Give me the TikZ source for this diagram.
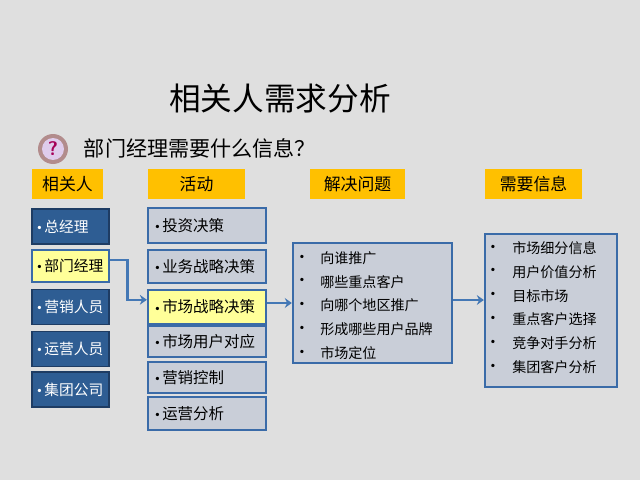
\documentclass[tikz,border=0pt]{standalone}
\usepackage{fontspec}
\newfontfamily\cjk{Noto Sans CJK SC}
\usetikzlibrary{arrows.meta}
\definecolor{bggray}{HTML}{DFDFDF}
\definecolor{hdryellow}{HTML}{FFC000}
\definecolor{roleblue}{HTML}{2E5D93}
\definecolor{rolenavy}{HTML}{1E3C63}
\definecolor{actfill}{HTML}{C9CED8}
\definecolor{actline}{HTML}{3A6BA8}
\definecolor{hilite}{HTML}{FFFF99}
\definecolor{arrowblue}{HTML}{4478B5}
\newcommand\bul{\raisebox{1.3pt}{\rmfamily\fontsize{8}{8}\selectfont\textbullet}}
\tikzset{
  header/.style={fill=hdryellow, minimum height=0.75cm, inner sep=0pt, font=\cjk\fontsize{12}{14}\selectfont},
  rolebox/.style={draw=rolenavy, line width=1pt, fill=roleblue, text=white, minimum height=0.875cm,
    text width=1.775cm, inner xsep=0.075cm, align=left, font=\cjk\fontsize{10.5}{12}\selectfont},
  actbox/.style={draw=actline, line width=1.6pt, fill=actfill, text width=2.7cm, inner xsep=0.125cm,
    align=left, font=\cjk\fontsize{11}{13}\selectfont},
  listbox/.style={draw=actline, line width=1.6pt, fill=actfill, inner sep=0pt},
  listitem/.style={anchor=west, inner sep=0pt, font=\cjk\fontsize{10}{12}\selectfont},
  flow/.style={draw=arrowblue, line width=1.8pt, -{Stealth[length=5pt,width=7pt]}}
}
\begin{document}
\begin{tikzpicture}[x=0.025cm,y=-0.025cm]
\fill[bggray] (0,0) rectangle (640,480);
\useasboundingbox (0,0) rectangle (640,480);
% title and question
\node [font=\cjk\fontsize{22.5}{26}\selectfont] (title) at (280,99) {相关人需求分析};
\fill[black!25!pink!80!gray] (53,149) circle [radius=15];
\fill[blue!25!violet!20!white] (53,149) circle [radius=11];
\node [font=\sffamily\bfseries\fontsize{14}{14}\selectfont, text=violet!70!red] (qmark) at (53,149) {?};
\node [anchor=west, font=\cjk\fontsize{15}{18}\selectfont] (question) at (79,148) {部门经理需要什么信息？};
% column headers
\node [header, minimum width=1.775cm] (hrole) at (67.5,184) {相关人};
\node [header, minimum width=2.425cm] (hact) at (196.5,184) {活动};
\node [header, minimum width=2.375cm] (hsolve) at (357.5,184) {解决问题};
\node [header, minimum width=2.425cm] (hneed) at (533.5,184) {需要信息};
% people
\node [rolebox] (gm) at (70.5,226.5) {\bul{}总经理};
\node [rolebox, fill=hilite, draw=actline, text=black, minimum height=0.8cm] (pm) at (70.5,266) {\bul{}部门经理};
\node [rolebox] (sales) at (70.5,307) {\bul{}营销人员};
\node [rolebox] (ops) at (70.5,349) {\bul{}运营人员};
\node [rolebox] (group) at (70.5,389.5) {\bul{}集团公司};
% activities
\node [actbox, minimum height=0.875cm] (invest) at (207,225.5) {\bul{}投资决策};
\node [actbox, minimum height=0.825cm] (biz) at (207,266.5) {\bul{}业务战略决策};
\node [actbox, fill=hilite, minimum height=0.85cm] (mkt) at (207,307) {\bul{}市场战略决策};
\node [actbox, minimum height=0.775cm] (user) at (207,341.5) {\bul{}市场用户对应};
\node [actbox, minimum height=0.775cm] (ctrl) at (207,377.5) {\bul{}营销控制};
\node [actbox, minimum height=0.825cm] (anal) at (207,413.5) {\bul{}运营分析};
% problems and information
\node [listbox, minimum width=3.975cm, minimum height=3cm] (solve) at (372.5,303) {};
\node [listbox, minimum width=3.3cm, minimum height=3.825cm] (need) at (551,310.5) {};
\foreach \txt [count=\i] in {向谁推广, 哪些重点客户, 向哪个地区推广, 形成哪些用户品牌, 市场定位} {
  \node [listitem] at (297,258+23.8*\i-23.8) {\bul};
  \node [listitem] (s\i) at (320,258+23.8*\i-23.8) {\txt};
}
\foreach \txt [count=\i] in {市场细分信息, 用户价值分析, 目标市场, 重点客户选择, 竞争对手分析, 集团客户分析} {
  \node [listitem] at (488,248+23.8*\i-23.8) {\bul};
  \node [listitem] (n\i) at (512,248+23.8*\i-23.8) {\txt};
}
% arrows
\draw[flow] ([yshift=0.15cm]pm.east) -- ++(0.45cm,0) |- ([yshift=0.18cm]mkt.west);
\draw[flow] (mkt.east |- solve.west) -- (solve.west);
\draw[flow] ([yshift=0.075cm]solve.east) -- ([yshift=0.075cm]solve.east -| need.west);
\end{tikzpicture}
\end{document}
